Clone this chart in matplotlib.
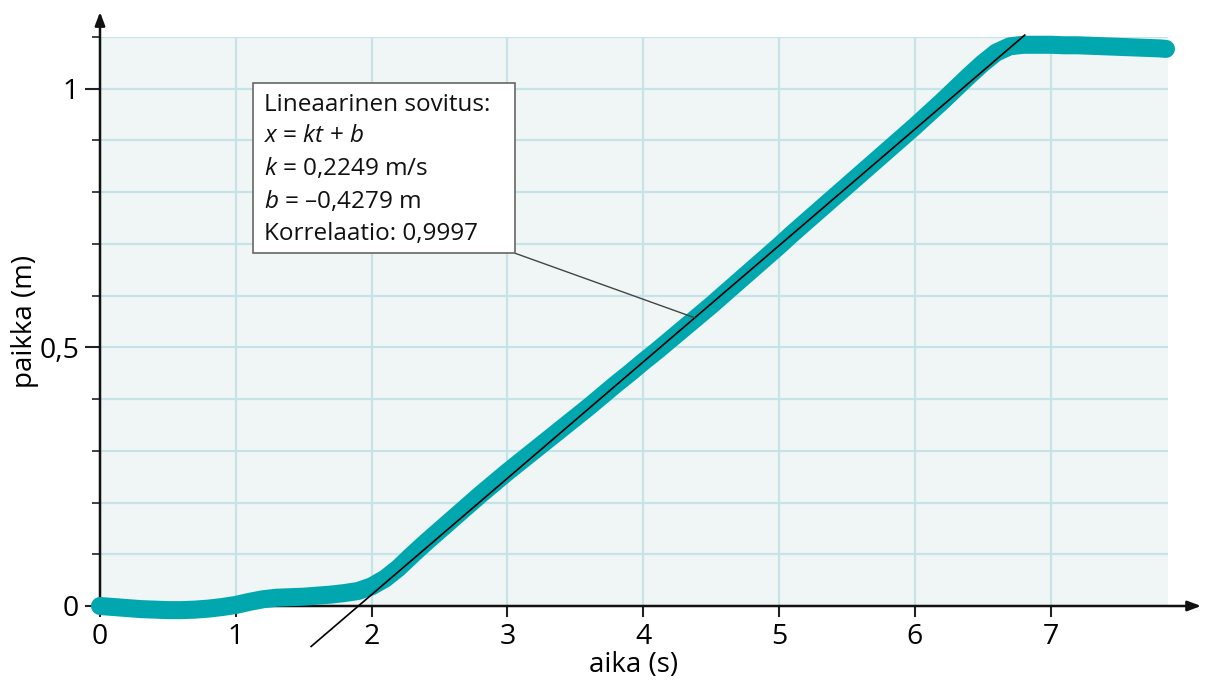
import matplotlib
matplotlib.use("Agg")
import matplotlib.pyplot as plt
from matplotlib.ticker import MultipleLocator, FixedLocator
from matplotlib.patches import Rectangle

plt.rcParams['font.family'] = ['Open Sans', 'DejaVu Sans']
plt.rcParams['mathtext.fontset'] = 'custom'
plt.rcParams['mathtext.rm'] = 'Open Sans'
plt.rcParams['mathtext.it'] = 'Open Sans:italic'

# ---- data ----
time_s = [0.0, 0.1, 0.2, 0.3, 0.4, 0.5, 0.6, 0.7, 0.8, 0.9,
          1.0, 1.1, 1.2, 1.3, 1.4, 1.5, 1.6, 1.7, 1.8, 1.9,
          2.0, 2.1, 2.2, 2.3, 2.4, 2.5, 2.6, 2.7, 2.8, 2.9,
          3.0, 3.1, 3.2, 3.3, 3.4, 3.5, 3.6, 3.7, 3.8, 3.9,
          4.0, 4.1, 4.2, 4.3, 4.4, 4.5, 4.6, 4.7, 4.8, 4.9,
          5.0, 5.1, 5.2, 5.3, 5.4, 5.5, 5.6, 5.7, 5.8, 5.9,
          6.0, 6.1, 6.2, 6.3, 6.4, 6.5, 6.6, 6.7, 6.8, 6.9,
          7.0, 7.1, 7.2, 7.3, 7.4, 7.5, 7.6, 7.7, 7.8, 7.85]
position_m = [0.000, -0.002, -0.004, -0.006, -0.007, -0.008, -0.008, -0.007, -0.005, -0.002,
              0.002, 0.008, 0.013, 0.016, 0.017, 0.018, 0.020, 0.022, 0.025, 0.029,
              0.038, 0.053, 0.074, 0.099, 0.123, 0.146, 0.169, 0.192, 0.215, 0.237,
              0.259, 0.280, 0.301, 0.322, 0.343, 0.364, 0.385, 0.407, 0.429, 0.450,
              0.472, 0.493, 0.515, 0.537, 0.559, 0.581, 0.604, 0.627, 0.650, 0.673,
              0.696, 0.720, 0.743, 0.766, 0.789, 0.812, 0.835, 0.858, 0.881, 0.904,
              0.927, 0.951, 0.975, 1.000, 1.025, 1.049, 1.070, 1.082, 1.085, 1.085,
              1.085, 1.084, 1.084, 1.083, 1.082, 1.081, 1.080, 1.079, 1.078, 1.077]

fit_k = 0.2249
fit_b = -0.4279
fit_t_range = [1.555, 6.81]

x_ticks = [0, 1, 2, 3, 4, 5, 6, 7]
x_tick_labels = ['0', '1', '2', '3', '4', '5', '6', '7']
y_ticks = [0, 0.5, 1]
y_tick_labels = ['0', '0,5', '1']

box_lines = ['Lineaarinen sovitus:',
             r'$x$ = $kt$ + $b$',
             r'$k$ = 0,2249 m/s',
             r'$b$ = –0,4279 m',
             'Korrelaatio: 0,9997']

TEAL = '#00a7af'
GRID = '#c6e4e7'
BG = '#f0f6f6'

fig = plt.figure(figsize=(12.06, 6.84), dpi=100)
ax = fig.add_axes([100/1206, 78/684, 1068/1206, 569/684])
ax.set_facecolor(BG)
ax.set_xlim(0, 7.865)
ax.set_ylim(0, 1.1)

for s in ax.spines.values():
    s.set_visible(False)

# grid
ax.xaxis.set_major_locator(FixedLocator(x_ticks))
ax.yaxis.set_major_locator(FixedLocator(y_ticks))
ax.yaxis.set_minor_locator(MultipleLocator(0.1))
ax.grid(True, which='major', axis='x', color=GRID, lw=1.6, zorder=0)
ax.grid(True, which='both', axis='y', color=GRID, lw=1.6, zorder=0)
ax.set_axisbelow(True)

ax.set_xticklabels(x_tick_labels)
ax.set_yticklabels(y_tick_labels)
ax.tick_params(axis='x', which='major', length=8, width=1.5, color='#222', labelsize=20.5, pad=4)
ax.tick_params(axis='y', which='major', length=11, width=1.5, color='#222', labelsize=20.5, pad=4)
ax.tick_params(axis='y', which='minor', length=6, width=1.2, color='#222')

# axes arrows
ax.annotate('', xy=(1.031, 0), xytext=(0, 0), xycoords='axes fraction',
            textcoords='axes fraction',
            arrowprops=dict(arrowstyle='-|>,head_length=0.8,head_width=0.3', lw=1.8,
                            color='#111', shrinkA=0, shrinkB=0), zorder=5)
ax.annotate('', xy=(0, 1.044), xytext=(0, 0), xycoords='axes fraction',
            textcoords='axes fraction',
            arrowprops=dict(arrowstyle='-|>,head_length=0.8,head_width=0.3', lw=1.8,
                            color='#111', shrinkA=0, shrinkB=0), zorder=5)

# data
ax.plot(time_s, position_m, color=TEAL, lw=13, solid_capstyle='round',
        solid_joinstyle='round', clip_on=False, zorder=6)

# fit line
fit_y = [fit_k * t + fit_b for t in fit_t_range]
ax.plot(fit_t_range, fit_y, color='black', lw=1.2, clip_on=False, zorder=7)

# annotation box + leader line
box_x0, box_x1 = 1.124, 3.056
box_y0, box_y1 = 0.682, 1.011
t_pt = 4.38
ax.plot([box_x1, t_pt], [box_y0, fit_k * t_pt + fit_b], color='#444', lw=1.0, zorder=8)
ax.add_patch(Rectangle((box_x0, box_y0), box_x1 - box_x0, box_y1 - box_y0,
                       fc='white', ec='#666', lw=1.2, zorder=9))
ax.text(1.205, 0.992, '\n'.join(box_lines), ha='left', va='top',
        fontsize=17.5, linespacing=1.42, color='#111', zorder=10)

ax.set_xlabel('aika (s)', fontsize=20, labelpad=0)
ax.set_ylabel('paikka (m)', fontsize=20, labelpad=0)

fig.savefig('out.png', dpi=100)
